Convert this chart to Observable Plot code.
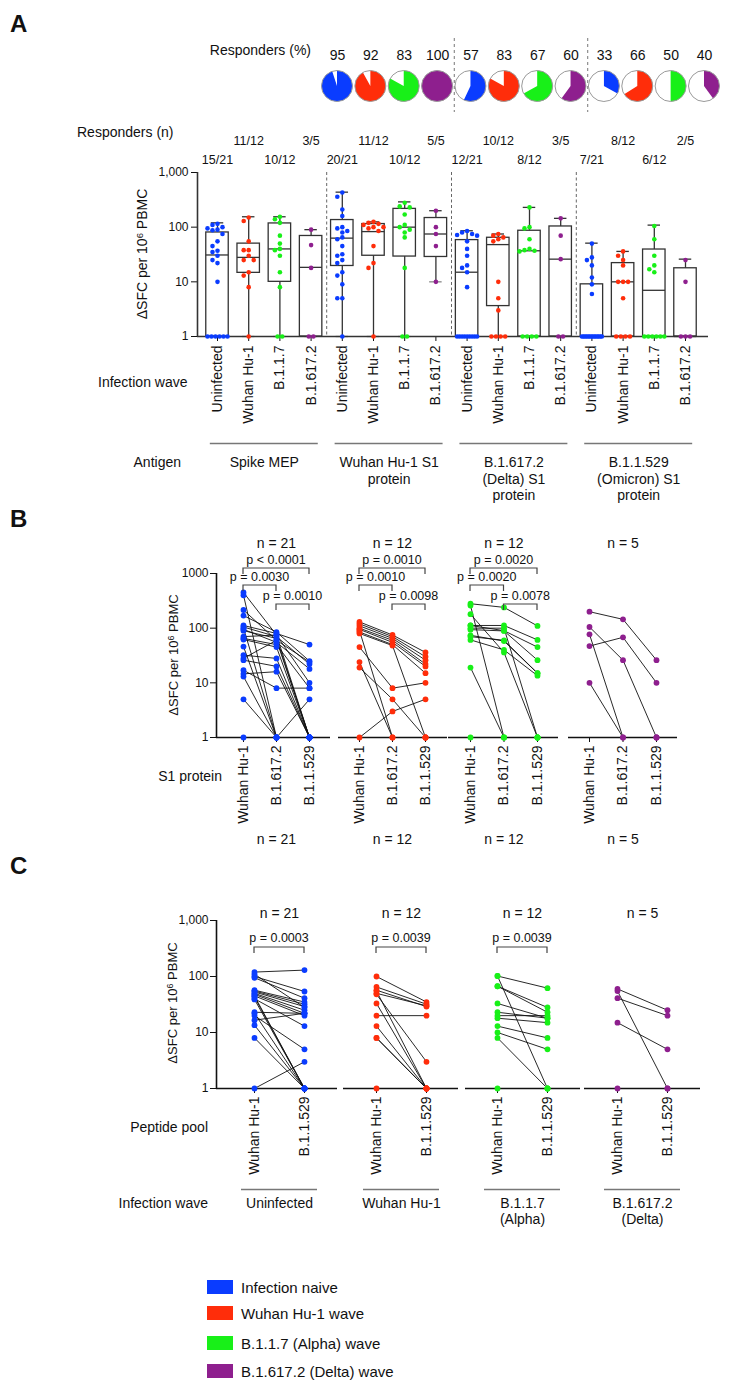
<!DOCTYPE html>
<html><head><meta charset="utf-8">
<script src="https://cdn.jsdelivr.net/npm/d3@7"></script>
<script src="https://cdn.jsdelivr.net/npm/@observablehq/plot@0.6"></script>
<style>
html,body{margin:0;padding:0;background:#fff;}
#page{position:relative;width:733px;height:1393px;overflow:hidden;background:#fff;font-family:"Liberation Sans",Arial,Helvetica,sans-serif;color:#111;}
.lbl{position:absolute;white-space:nowrap;line-height:1;}
.plotsvg{position:absolute;}
</style></head><body><div id="page"></div>
<script>
// ---------------- DATA ----------------
const waveColors = ["#0a3cff", "#ff2d0a", "#18f018", "#8e1f8e"];
const legendLabels = ["Infection naive", "Wuhan Hu-1 wave", "B.1.1.7 (Alpha) wave", "B.1.617.2 (Delta) wave"];

// Panel A – pies (responders %, S1 proteins Wuhan / Delta / Omicron, each 4 waves)
const responderPct = [95, 92, 83, 100, 57, 83, 67, 60, 33, 66, 50, 40];

// Panel A – box plots
const antigens = ["Spike MEP", "Wuhan Hu-1 S1\nprotein", "B.1.617.2\n(Delta) S1\nprotein", "B.1.1.529\n(Omicron) S1\nprotein"];
const waves = ["Uninfected", "Wuhan Hu-1", "B.1.1.7", "B.1.617.2"];
const respondersN = ["15/21","11/12","10/12","3/5", "20/21","11/12","10/12","5/5", "12/21","10/12","8/12","3/5", "7/21","8/12","6/12","2/5"];
const boxMin = [1,1,1,1, 1,1,1,10, 1,1,1,1, 1,1,1,1];
const boxQ1  = [1,14.6,10,1, 19.5,30,29,28.5, 1,3.6,1,1, 1,1,1,1];
const boxMed = [31,28,40,18.4, 63,83,100,75, 15,48,37,26, 1,10,7,1];
const boxQ3  = [80,50,117,69, 135,114,216,147, 58,64,86,103, 9,22,39,17.7];
const boxMax = [120,155,155,90, 437,125,290,200, 86,75,230,145, 51,36,109,26];
const sfcA = [
  [115,110,100,95,90,88,75,55,45,37,35,30,25,22,10,1,1,1,1,1,1],
  [150,130,55,38,38,30,25,25,15,13,8,1],
  [155,140,120,70,50,40,38,30,15,8,1,1],
  [90,47,18,1,1],
  [430,360,210,160,100,95,85,80,65,60,45,32,30,25,22,15,13,9,5,5,1],
  [125,120,115,110,100,100,95,85,45,22,18,1],
  [280,240,230,170,110,100,90,80,65,18,1,1],
  [200,100,75,45,10],
  [85,80,75,72,70,55,40,30,20,18,15,8,1,1,1,1,1,1,1,1,1],
  [75,70,65,60,55,10,5,3,1,1,1,1],
  [230,100,95,60,40,38,37,36,1,1,1,1],
  [145,70,26,1,1],
  [50,28,25,20,12,9,6,1,1,1,1,1,1,1,1,1,1,1,1,1,1],
  [36,30,25,20,10,10,10,5,1,1,1,1],
  [105,60,30,20,17,15,1,1,1,1,1,1],
  [25,10,1,1,1]
];

// Panel B – S1 protein, paired per donor [Wuhan Hu-1, B.1.617.2, B.1.1.529]
const s1Proteins = ["Wuhan Hu-1", "B.1.617.2", "B.1.1.529"];
const nLabels = ["n = 21", "n = 12", "n = 12", "n = 5"];
const sfcB = [
  [[450,75,1],[400,1,1],[215,60,1],[170,85,25],[112,80,50],[105,70,22],[95,55,18],[90,65,1],[70,75,10],[65,50,8],[62,45,1],[46,1,1],[32,28,1],[28,60,24],[26,20,1],[17,8,8],[14.6,16,1],[13,1,1],[5,1,1],[1,1,5],[100,1,1]],
  [[130,75,36],[120,70,30],[110,65,26],[100,60,22],[95,55,20],[85,50,15],[80,48,1],[45,8,10],[24,1,1],[19,5,1],[1,3,5],[90,1,1]],
  [[280,240,110],[260,1,1],[180,36,1],[112,112,61],[112,90,45],[94,89,26],[74,58,15],[61,40,13.5],[19,1,1],[1,1,1],[100,100,1],[70,60,15]],
  [[200,145,26],[105,26,1],[47,68,10],[77,1,1],[10,1,1]]
];
const pB = [
  [{a:0,b:2,label:"p < 0.0001",level:0},{a:0,b:1,label:"p = 0.0030",level:1},{a:1,b:2,label:"p = 0.0010",level:2}],
  [{a:0,b:2,label:"p = 0.0010",level:0},{a:0,b:1,label:"p = 0.0010",level:1},{a:1,b:2,label:"p = 0.0098",level:2}],
  [{a:0,b:2,label:"p = 0.0020",level:0},{a:0,b:1,label:"p = 0.0020",level:1},{a:1,b:2,label:"p = 0.0078",level:2}],
  []
];

// Panel C – peptide pools, paired per donor [Wuhan Hu-1, B.1.1.529]
const peptidePools = ["Wuhan Hu-1", "B.1.1.529"];
const infectionWaveC = ["Uninfected", "Wuhan Hu-1", "B.1.1.7\n(Alpha)", "B.1.617.2\n(Delta)"];
const sfcC = [
  [[120,130],[100,54],[95,41],[57,35],[55,32],[53,29],[50,25],[48,22],[45,20],[43,1],[40,13],[39,1],[23,22],[20,5],[16.6,22],[13.5,1],[8,1],[1,3],[45,1],[22,1],[110,28]],
  [[100,35],[65,32],[57,29],[50,30],[20,20],[33,1],[48,3],[13,1],[8,1],[8,1],[1,1],[55,1]],
  [[102,62],[102,1],[67,28],[67,23],[33,18],[23,18],[18,15],[13,8],[10,5],[8,1],[1,1],[20,20]],
  [[60,25],[55,1],[41,20],[15,5],[1,1]]
];
const pC = ["p = 0.0003", "p = 0.0039", "p = 0.0039", null];

// ---------------- HELPERS ----------------
const page = document.getElementById("page");
const FONT = '"Liberation Sans", Arial, Helvetica, sans-serif';
const baseStyle = {background: "transparent", overflow: "visible", fontFamily: FONT, fontSize: "12px", color: "#111"};

function place(svg, left, top) {
  svg.classList.add("plotsvg");
  svg.style.position = "absolute";
  svg.style.left = left + "px";
  svg.style.top = top + "px";
  svg.style.maxWidth = "none";
  page.appendChild(svg);
}
function label(html, x, y, opt = {}) {
  const {size = 14, anchor = "start", weight = 400, rotate = 0} = opt;
  const d = document.createElement("div");
  d.className = "lbl";
  d.innerHTML = html;
  d.style.fontSize = size + "px";
  d.style.fontWeight = weight;
  d.style.left = x + "px";
  d.style.top = y + "px";
  const tx = anchor === "middle" ? "-50%" : anchor === "end" ? "-100%" : "0";
  d.style.transform = `translate(${tx},-50%)` + (rotate ? ` rotate(${rotate}deg)` : "");
  page.appendChild(d);
  return d;
}
const yTitle = 'ΔSFC per 10<span style="font-size:0.68em;position:relative;top:-0.45em">6</span> PBMC';

// ---------------- PANEL LETTERS & ROW LABELS ----------------
label("A", 10, 24, {size: 24, weight: 700});
label("B", 10, 519, {size: 24, weight: 700});
label("C", 10, 866, {size: 24, weight: 700});
label("Responders (%)", 311, 50, {anchor: "end"});
label("Responders (n)", 77, 132);
label("Infection wave", 98, 382);
label("Antigen", 181, 462, {anchor: "end"});
label("S1 protein", 222, 776, {anchor: "end"});
label("Peptide pool", 208, 1127, {anchor: "end"});
label("Infection wave", 208, 1203, {anchor: "end"});
label(yTitle, 142, 254, {anchor: "middle", rotate: -90});
label(yTitle, 173, 655, {anchor: "middle", rotate: -90, size: 13});
label(yTitle, 172, 1003, {anchor: "middle", rotate: -90, size: 13});

// ---------------- PIES ----------------
{
  const pies = responderPct.map((p, i) => ({i, p, color: waveColors[i % 4]}));
  const r = 15.5;
  const pieMark = (index, scales, values, dims) => {
    const sx = scales && scales.x ? scales.x : (v => 337 + v * 33.36);
    const g = d3.create("svg:g");
    const arc = d3.arc().innerRadius(0).outerRadius(r);
    for (const d of pies) {
      const gi = g.append("g").attr("transform", `translate(${sx(d.i)},${dims.marginTop + 48})`);
      gi.append("circle").attr("r", r).attr("fill", "white");
      gi.append("path").attr("d", arc({startAngle: 0, endAngle: 2 * Math.PI * d.p / 100})).attr("fill", d.color);
      gi.append("circle").attr("r", r).attr("fill", "none").attr("stroke", "#9a9a9a").attr("stroke-width", 1);
    }
    return g.node();
  };
  const svg = Plot.plot({
    width: 733, height: 74, marginLeft: 337, marginRight: 29, marginTop: 0, marginBottom: 0,
    x: {type: "linear", domain: [0, 11], axis: null},
    style: baseStyle,
    marks: [
      Plot.ruleX([3.5, 7.5], {stroke: "#777", strokeDasharray: "3,3", strokeWidth: 1}),
      Plot.text(pies, {x: "i", text: d => String(d.p), frameAnchor: "top", dy: 12, fontSize: 14}),
      pieMark
    ]
  });
  place(svg, 0, 38);
}

// ---------------- PANEL A BOX PLOTS ----------------
{
  const stepA = 31.2, firstA = 217, axisX = 197, rightX = 708;
  const x0 = (axisX - firstA) / stepA, x1 = (rightX - firstA) / stepA;
  const cats = respondersN.map((n, i) => ({
    i, n, wave: waves[i % 4], color: waveColors[i % 4],
    min: boxMin[i], q1: boxQ1[i], med: boxMed[i], q3: boxQ3[i], max: boxMax[i]
  }));
  const pxDec = 54.7;
  function swarm(vals) {
    const off = vals.map(() => 0);
    const order = vals.map((v, i) => i).sort((a, b) => vals[b] - vals[a]);
    const ones = order.filter(i => vals[i] === 1);
    const n1 = ones.length;
    const sp = n1 > 1 ? Math.min(4.6, 20 / (n1 - 1)) : 0;
    ones.forEach((i, k) => off[i] = (k - (n1 - 1) / 2) * sp);
    const placed = [];
    for (const i of order) {
      if (vals[i] === 1) continue;
      const y = pxDec * Math.log10(vals[i]);
      for (const c of [0, -5, 5, -10, 10, -15, 15]) {
        if (placed.every(p => Math.hypot(p.x - c, p.y - y) >= 4.8)) { off[i] = c; placed.push({x: c, y}); break; }
      }
    }
    return off;
  }
  const pts = sfcA.flatMap((vals, i) => {
    const off = swarm(vals);
    return vals.map((v, k) => ({x: i + off[k] / stepA, v, color: waveColors[i % 4]}));
  });
  const groups = antigens.map((a, g) => ({g, a}));
  const mt = 52, frameH = 336 - 172, mb = 190;
  const svg = Plot.plot({
    width: 733, height: mt + frameH + mb,
    marginLeft: axisX, marginRight: 733 - rightX, marginTop: mt, marginBottom: mb,
    x: {type: "linear", domain: [x0, x1], ticks: d3.range(16), tickFormat: () => "", tickSize: 5, label: null},
    y: {type: "log", domain: [1, 1000], ticks: [1, 10, 100, 1000], tickFormat: d3.format(","), tickSize: 6, tickPadding: 3, label: null},
    style: baseStyle,
    marks: [
      Plot.ruleX([3.5, 7.5, 11.5], {stroke: "#666", strokeDasharray: "3,2.5", strokeWidth: 1}),
      Plot.ruleX(cats, {x: "i", y1: "min", y2: "max", stroke: "#333", strokeWidth: 1.3}),
      Plot.ruleY(cats, {y: "max", x1: d => d.i - 0.2, x2: d => d.i + 0.2, stroke: "#333", strokeWidth: 1.3}),
      Plot.ruleY(cats, {y: "min", x1: d => d.i - 0.2, x2: d => d.i + 0.2, stroke: "#888", strokeWidth: 1.3}),
      Plot.rect(cats, {x1: d => d.i - 0.36, x2: d => d.i + 0.36, y1: "q1", y2: "q3", fill: "white", stroke: "#333", strokeWidth: 1.3}),
      Plot.ruleY(cats, {y: "med", x1: d => d.i - 0.36, x2: d => d.i + 0.36, stroke: "#333", strokeWidth: 1.3}),
      Plot.ruleY([1], {stroke: "#333", strokeWidth: 1.6}),
      Plot.ruleX([x0], {stroke: "#333", strokeWidth: 1.6}),
      Plot.dot(pts, {x: "x", y: "v", fill: "color", r: 2.3}),
      Plot.text(cats.filter(d => d.i % 2 === 1), {x: "i", text: "n", frameAnchor: "top", dy: -36, fontSize: 12.5}),
      Plot.text(cats.filter(d => d.i % 2 === 0), {x: "i", text: "n", frameAnchor: "top", dy: -17, fontSize: 12.5}),
      Plot.text(cats, {x: "i", y: () => 1, text: "wave", rotate: -90, textAnchor: "end", dy: 9, fontSize: 14}),
      Plot.ruleY(groups, {y: () => 1, x1: d => d.g * 4 - 0.23, x2: d => d.g * 4 + 3.23, dy: 107, stroke: "#777", strokeWidth: 1.5}),
      Plot.text(groups, {x: d => d.g * 4 + 1.5, y: () => 1, text: "a", dy: 119, lineAnchor: "top", lineHeight: 1.18, fontSize: 14})
    ]
  });
  place(svg, 0, 172 - mt);
}

// ---------------- PAIRED PANELS (B, C) ----------------
function pairPlot(cfg) {
  const {subjects, color, labels, L, R, p0, step, yTop, yBot, showY, tickFmt, brackets, bracketOff, textGap,
         nText, nTopDy, nBottomDy, underline, groupLabel} = cfg;
  const mt = 90, mb = 150;
  const x0 = (L - p0) / step, x1 = (R - p0) / step;
  const pts = subjects.flatMap((s, id) => s.map((v, k) => ({id, k, v})));
  const bracketMark = (index, scales, values, dims) => {
    const sx = scales && scales.x ? scales.x : (v => L + (v - x0) * step);
    const g = d3.create("svg:g").attr("font-family", FONT);
    for (const b of brackets) {
      const xa = sx(b.a), xb = sx(b.b), yb = dims.marginTop + bracketOff[b.level];
      g.append("path").attr("d", `M${xa},${yb + 6}V${yb}H${xb}V${yb + 6}`)
        .attr("fill", "none").attr("stroke", "#444").attr("stroke-width", 1.2);
      g.append("text").attr("x", (xa + xb) / 2).attr("y", yb - textGap).attr("text-anchor", "middle")
        .attr("font-size", 12.5).attr("fill", "#111").text(b.label);
    }
    return g.node();
  };
  const marks = [
    Plot.ruleY([1], {stroke: "#111", strokeWidth: 1.6}),
    showY ? Plot.ruleX([x0], {stroke: "#111", strokeWidth: 1.6}) : null,
    Plot.line(pts, {x: "k", y: "v", z: "id", stroke: "#111", strokeWidth: 0.9}),
    Plot.dot(pts, {x: "k", y: "v", fill: color, r: 2.9}),
    Plot.text(labels, {x: (d, i) => i, y: () => 1, text: d => d, rotate: -90, textAnchor: "end", dy: 8, fontSize: 14}),
    bracketMark,
    Plot.text([nText], {x: () => (labels.length - 1) / 2, frameAnchor: "top", dy: nTopDy, fontSize: 14})
  ];
  if (nBottomDy != null) marks.push(Plot.text([nText], {x: () => (labels.length - 1) / 2, frameAnchor: "bottom", dy: nBottomDy, fontSize: 14}));
  if (underline) {
    marks.push(Plot.ruleY([groupLabel], {y: () => 1, x1: () => -0.26, x2: () => labels.length - 1 + 0.26, dy: 101, stroke: "#777", strokeWidth: 1.5}));
    marks.push(Plot.text([groupLabel], {x: () => (labels.length - 1) / 2, y: () => 1, text: d => d, dy: 108, lineAnchor: "top", lineHeight: 1.15, fontSize: 14}));
  }
  const svg = Plot.plot({
    width: 733, height: mt + (yBot - yTop) + mb,
    marginLeft: L, marginRight: 733 - R, marginTop: mt, marginBottom: mb,
    x: {type: "linear", domain: [x0, x1], ticks: labels.map((d, i) => i), tickFormat: () => "", tickSize: 5, label: null},
    y: {type: "log", domain: [1, 1000], ticks: [1, 10, 100, 1000], tickFormat: tickFmt, tickSize: 6, tickPadding: 2, label: null, axis: showY ? "left" : null},
    style: baseStyle,
    marks: marks.filter(Boolean)
  });
  place(svg, 0, yTop - mt);
}

const subB = [{L: 216, R: 330, p0: 243, step: 33}, {L: 338, R: 447, p0: 359, step: 33}, {L: 448, R: 558, p0: 470, step: 33.5}, {L: 568, R: 677, p0: 589, step: 33.5}];
subB.forEach((s, k) => pairPlot({
  ...s, subjects: sfcB[k], color: waveColors[k], labels: s1Proteins, yTop: 573, yBot: 737,
  showY: k === 0, tickFmt: d => String(d), brackets: pB[k], bracketOff: [-5, 12, 31], textGap: 4,
  nText: nLabels[k], nTopDy: -35, nBottomDy: 106
}));

const subC = [{L: 216, R: 337, p0: 254, step: 50}, {L: 343, R: 458, p0: 376, step: 50}, {L: 465, R: 580, p0: 497, step: 50}, {L: 584, R: 700, p0: 617, step: 50}];
subC.forEach((s, k) => pairPlot({
  ...s, subjects: sfcC[k], color: waveColors[k], labels: peptidePools, yTop: 920, yBot: 1088,
  showY: k === 0, tickFmt: d3.format(","), brackets: pC[k] ? [{a: 0, b: 1, label: pC[k], level: 0}] : [], bracketOff: [27], textGap: 5,
  nText: nLabels[k], nTopDy: -12, nBottomDy: null, underline: true, groupLabel: infectionWaveC[k]
}));

// ---------------- LEGEND ----------------
const legendY = [1287, 1313, 1343, 1371];
legendLabels.forEach((t, i) => {
  const b = document.createElement("div");
  b.style.cssText = `position:absolute;left:207px;top:${legendY[i] - 7}px;width:26px;height:14px;background:${waveColors[i]};`;
  page.appendChild(b);
  label(t, 241, legendY[i], {size: 15});
});
</script>
</body></html>
